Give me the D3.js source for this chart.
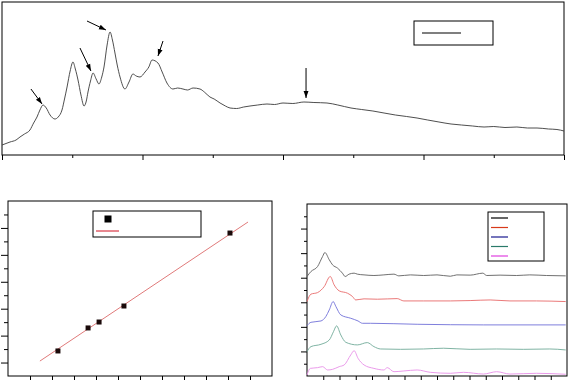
<!DOCTYPE html>
<html>
<head>
<meta charset="utf-8">
<script src="https://cdn.jsdelivr.net/npm/d3@7"></script>
<style>
  body { margin: 0; background: #fff; }
  svg { display: block; }
</style>
</head>
<body>
<svg id="chart" width="568" height="380"></svg>
<script>
// top panel: diffraction pattern
const twoTheta = [10.0, 10.57, 11.0, 11.28, 11.6, 11.99, 12.25, 12.49, 12.7, 12.92, 13.15, 13.42, 13.77, 14.0, 14.27, 14.45, 14.63, 14.85, 15.05, 15.22, 15.41, 15.62, 15.84, 16.0, 16.12, 16.3, 16.48, 16.7, 16.9, 17.1, 17.26, 17.48, 17.69, 17.86, 18.04, 18.2, 18.4, 18.75, 19.04, 19.32, 19.55, 19.82, 20.18, 20.45, 20.68, 21.1, 21.4, 21.74, 22.17, 22.5, 22.88, 23.2, 23.6, 24.09, 24.4, 24.8, 25.1, 25.52, 25.9, 26.23, 26.7, 27.2, 27.65, 28.2, 28.86, 29.4, 30.0, 30.7, 31.49, 32.2, 33.13, 33.9, 34.84, 35.6, 36.4, 37.19, 38.0, 38.8, 39.54, 40.3, 41.1, 41.96, 42.7, 43.5, 44.31, 45.0, 45.8, 46.65, 47.4, 48.08, 48.9, 49.5, 50.0];
const intensity = [100, 130, 150, 180, 210, 250, 320, 380, 450, 500, 470, 400, 360, 380, 450, 560, 680, 840, 930, 860, 750, 600, 490, 540, 630, 740, 820, 760, 710, 780, 880, 1100, 1230, 1150, 1020, 900, 780, 660, 730, 810, 790, 780, 830, 880, 950, 920, 830, 720, 660, 670, 660, 650, 670, 660, 630, 580, 560, 520, 490, 470, 465, 480, 490, 500, 510, 505, 520, 515, 530, 525, 520, 500, 470, 455, 440, 420, 400, 385, 370, 350, 330, 310, 300, 290, 280, 285, 275, 280, 270, 270, 260, 255, 240];
const arrows = [
  {x1: 12.06, y1: 660, x2: 12.85, y2: 510},
  {x1: 15.55, y1: 1070, x2: 16.33, y2: 840},
  {x1: 16.05, y1: 1340, x2: 17.40, y2: 1250},
  {x1: 21.46, y1: 1140, x2: 21.10, y2: 990},
  {x1: 31.64, y1: 870, x2: 31.64, y2: 570}
];

// bottom-left panel: linear fit
const fitX = [2.27, 3.64, 4.14, 5.27, 10.09];
const fitY = [1.86, 3.57, 4.01, 5.20, 10.62];
const fitLine = [{x: 1.45, y: 1.11}, {x: 10.91, y: 11.44}];

// bottom-right panel: stacked traces
const traceColors = ["#606060", "#e86a6a", "#7070d8", "#70aa98", "#e890e8"];
const legendColors = ["#000000", "#d83a1a", "#1a1a90", "#2a7a6a", "#e040e0"];
const traces = [
  [[0,81.0],[2.4,85.0],[6.5,89.1],[9.6,97.3],[11.0,100.5],[13.7,94.6],[15.7,90.5],[18.8,87.8],[21.8,83.7],[23.5,81.0],[25.9,82.9],[29.0,83.7],[31.0,82.9],[35.1,82.3],[41.2,81.8],[47.3,82.3],[53.5,82.9],[56.5,81.5],[63.7,82.3],[71.8,81.8],[80.0,82.3],[88.2,81.2],[92.2,82.3],[100.4,82.1],[108.2,83.7],[110.6,81.8],[118.8,82.1],[129.0,81.8],[137.1,82.3],[147.3,81.8],[159.2,81.5]],
  [[0,60.6],[2.4,66.6],[6.5,67.9],[10.6,72.8],[14.3,81.0],[16.7,74.2],[19.8,69.3],[24.9,67.4],[28.0,64.7],[30.0,61.9],[35.1,62.8],[43.3,62.5],[55.5,63.0],[59.6,61.1],[71.8,61.1],[88.2,61.1],[100.4,61.4],[112.7,61.9],[124.9,61.1],[141.2,61.1],[159.2,60.6]],
  [[0,41.0],[2.4,43.7],[8.6,44.8],[11.6,48.4],[13.7,53.8],[16.1,60.6],[17.8,56.5],[20.8,49.7],[26.9,47.0],[31.4,44.8],[34.1,42.9],[39.2,42.9],[67.8,42.1],[108.6,41.6],[159.2,41.6]],
  [[0,19.8],[2.4,23.9],[8.6,25.8],[13.7,29.3],[16.3,36.1],[18.2,40.8],[20.8,33.4],[23.9,27.4],[31.0,25.3],[37.1,27.2],[41.2,23.9],[45.3,22.0],[57.5,21.7],[71.8,22.0],[84.1,22.6],[100.4,21.7],[116.7,22.0],[133.1,21.7],[149.4,22.0],[159.2,21.2]],
  [[0,0.8],[2.0,6.2],[6.5,6.8],[9.6,7.6],[12.7,4.9],[15.7,5.4],[19.8,7.6],[22.9,9.0],[26.9,17.1],[29.0,20.6],[31.4,14.4],[35.1,9.0],[41.2,6.2],[47.3,4.9],[49.4,6.8],[53.5,3.5],[59.6,4.1],[67.8,4.9],[75.9,3.0],[88.2,2.2],[96.3,3.0],[108.6,1.6],[116.7,3.5],[124.9,1.6],[141.2,2.2],[159.2,1.4]]
];

const svg = d3.select("#chart");

svg.append("defs").append("marker")
    .attr("id", "head")
    .attr("viewBox", "0 0 10 10")
    .attr("refX", 10).attr("refY", 5)
    .attr("markerWidth", 7).attr("markerHeight", 7)
    .attr("markerUnits", "userSpaceOnUse")
    .attr("orient", "auto")
  .append("path")
    .attr("d", "M0,1.5 L10,5 L0,8.5 Z")
    .attr("fill", "#000");

function frame(x0, y0, x1, y1) {
    svg.append("rect")
        .attr("x", x0).attr("y", y0)
        .attr("width", x1 - x0).attr("height", y1 - y0)
        .attr("fill", "none").attr("stroke", "#000").attr("stroke-width", 1);
}

function ticks(axisFn, scale, values, size, transform) {
    svg.append("g")
        .attr("transform", transform)
        .call(axisFn(scale).tickValues(values).tickSize(size).tickSizeOuter(0).tickFormat(""))
        .call(g => g.select(".domain").remove());
}

// ---- top panel
let xTop = d3.scaleLinear().domain([10, 50]).range([2, 564]);
let yTop = d3.scaleLinear().domain([0, 1530]).range([155, 2]);

frame(2, 2, 564, 155);
ticks(d3.axisBottom, xTop, d3.range(10, 51, 10), 5, "translate(0,155)");
ticks(d3.axisBottom, xTop, d3.range(15, 50, 10), 3, "translate(0,155)");

svg.append("path")
    .datum(d3.zip(twoTheta, intensity))
    .attr("fill", "none")
    .attr("stroke", "#3a3a3a")
    .attr("stroke-width", 0.9)
    .attr("d", d3.line().curve(d3.curveMonotoneX).x(d => xTop(d[0])).y(d => yTop(d[1])));

svg.selectAll(".arrow").data(arrows).enter()
    .append("line")
    .attr("class", "arrow")
    .attr("x1", d => xTop(d.x1)).attr("y1", d => yTop(d.y1))
    .attr("x2", d => xTop(d.x2)).attr("y2", d => yTop(d.y2))
    .attr("stroke", "#000").attr("stroke-width", 1)
    .attr("marker-end", "url(#head)");

svg.append("rect").attr("x", 414).attr("y", 21).attr("width", 79).attr("height", 24)
    .attr("fill", "#fff").attr("stroke", "#000");
svg.append("line").attr("x1", 422).attr("x2", 461).attr("y1", 33).attr("y2", 33)
    .attr("stroke", "#000").attr("stroke-width", 1.2);

// ---- bottom-left panel
let xBL = d3.scaleLinear().domain([0, 12]).range([8, 272]);
let yBL = d3.scaleLinear().domain([0, 13]).range([376, 201]);

frame(8, 201, 272, 376);
ticks(d3.axisBottom, xBL, d3.range(1, 12), 4, "translate(0,376)");
ticks(d3.axisLeft, yBL, d3.range(1, 13, 2), 7, "translate(8,0)");
ticks(d3.axisLeft, yBL, d3.range(2, 13, 2), 4, "translate(8,0)");

svg.append("path")
    .datum(fitLine)
    .attr("fill", "none")
    .attr("stroke", "#e07a7a")
    .attr("stroke-width", 1)
    .attr("d", d3.line().x(d => xBL(d.x)).y(d => yBL(d.y)));

svg.selectAll(".pt").data(d3.zip(fitX, fitY)).enter()
    .append("rect")
    .attr("class", "pt")
    .attr("x", d => xBL(d[0]) - 2.5).attr("y", d => yBL(d[1]) - 2.5)
    .attr("width", 5).attr("height", 5)
    .attr("fill", "#1a0a0a");

svg.append("rect").attr("x", 93).attr("y", 211).attr("width", 108).attr("height", 26)
    .attr("fill", "#fff").attr("stroke", "#000");
svg.append("rect").attr("x", 104.5).attr("y", 215.5).attr("width", 7).attr("height", 7).attr("fill", "#000");
svg.append("line").attr("x1", 96).attr("x2", 119).attr("y1", 231).attr("y2", 231)
    .attr("stroke", "#d01020").attr("stroke-width", 1);

// ---- bottom-right panel
let xBR = d3.scaleLinear().domain([0, 160]).range([307, 567]);
let yBR = d3.scaleLinear().domain([0, 140]).range([376, 204]);

frame(307, 204, 567, 376);
ticks(d3.axisBottom, xBR, d3.range(10, 160, 10), 4, "translate(0,376)");
ticks(d3.axisLeft, yBR, d3.range(20, 140, 20), 6, "translate(307,0)");
ticks(d3.axisLeft, yBR, d3.range(10, 140, 20), 3, "translate(307,0)");

let lineBR = d3.line().curve(d3.curveMonotoneX).x(d => xBR(d[0])).y(d => yBR(d[1]));
svg.selectAll(".trace").data(traces).enter()
    .append("path")
    .attr("class", "trace")
    .attr("fill", "none")
    .attr("stroke", (d, i) => traceColors[i])
    .attr("stroke-width", 0.9)
    .attr("d", lineBR);

svg.append("rect").attr("x", 488).attr("y", 212).attr("width", 56).attr("height", 49)
    .attr("fill", "#fff").attr("stroke", "#000");
svg.selectAll(".leg").data(legendColors).enter()
    .append("line")
    .attr("class", "leg")
    .attr("x1", 491).attr("x2", 508)
    .attr("y1", (d, i) => 218 + i * 9.5).attr("y2", (d, i) => 218 + i * 9.5)
    .attr("stroke", d => d).attr("stroke-width", 1.2);
</script>
</body>
</html>
